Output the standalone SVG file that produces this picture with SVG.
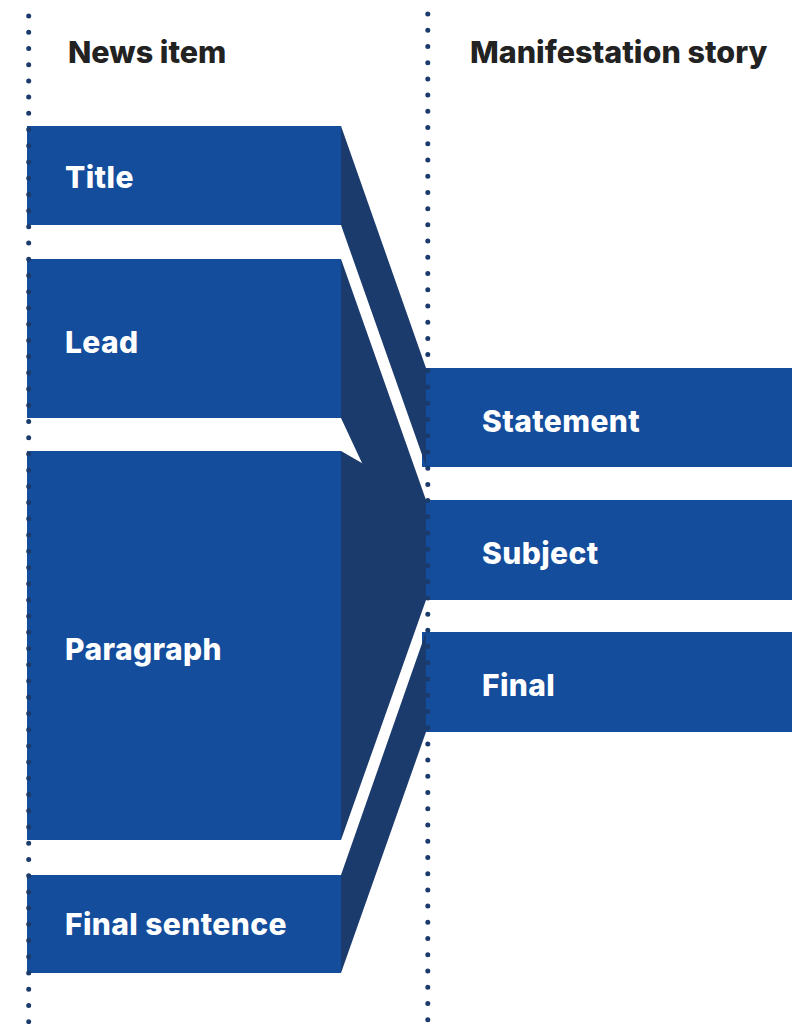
<svg xmlns="http://www.w3.org/2000/svg" width="792" height="1024" viewBox="0 0 792 1024">
  <style>
    .box { fill: #134d9c; }
    .flow { fill: #1b3b6c; }
    .guide { stroke: #1b3b6c; stroke-width: 5; stroke-linecap: round; stroke-dasharray: 0 16.22; fill: none; }
    .head { font-family: Inter, "Liberation Sans", sans-serif; font-weight: 800; font-size: 30.5px; fill: #222222; }
    .label { font-family: Inter, "Liberation Sans", sans-serif; font-weight: 800; font-size: 30px; letter-spacing: 0.4px; fill: #ffffff; }
  </style>
  <rect width="792" height="1024" fill="#ffffff"/>

  <!-- column headings -->
  <text class="head" x="68" y="63">News item</text>
  <text class="head" x="470" y="63">Manifestation story</text>

  <!-- right column: story parts -->
  <g id="statement">
    <rect class="box" x="422" y="368" width="370" height="99"/>
    <text class="label" x="482" y="432">Statement</text>
  </g>
  <g id="subject">
    <rect class="box" x="422" y="500" width="370" height="100"/>
    <text class="label" x="482" y="564">Subject</text>
  </g>
  <g id="final">
    <rect class="box" x="422" y="632" width="370" height="100"/>
    <text class="label" x="482" y="696">Final</text>
  </g>

  <!-- flows from news item parts into story parts -->
  <g id="connectors">
    <polygon class="flow" points="341,126 426,368 426,466 341,225"/>
    <polygon class="flow" points="341,259 426,500 426,600 341,418"/>
    <polygon class="flow" points="341,451 426,500 426,600 341,840"/>
    <polygon class="flow" points="341,875 426,632 426,732 341,973"/>
  </g>

  <!-- left column: news item parts -->
  <g id="title">
    <rect class="box" x="27" y="126" width="314" height="99"/>
    <text class="label" x="65" y="188">Title</text>
  </g>
  <g id="lead">
    <rect class="box" x="27" y="259" width="314" height="159"/>
    <text class="label" x="65" y="353">Lead</text>
  </g>
  <g id="paragraph">
    <rect class="box" x="27" y="451" width="314" height="389"/>
    <text class="label" x="65" y="660">Paragraph</text>
  </g>
  <g id="final-sentence">
    <rect class="box" x="27" y="875" width="314" height="98"/>
    <text class="label" x="65" y="935">Final sentence</text>
  </g>

  <!-- dotted column guides -->
  <line class="guide" x1="28.7" y1="16" x2="28.7" y2="1024"/>
  <line class="guide" x1="427.8" y1="14" x2="427.8" y2="1024"/>
</svg>
